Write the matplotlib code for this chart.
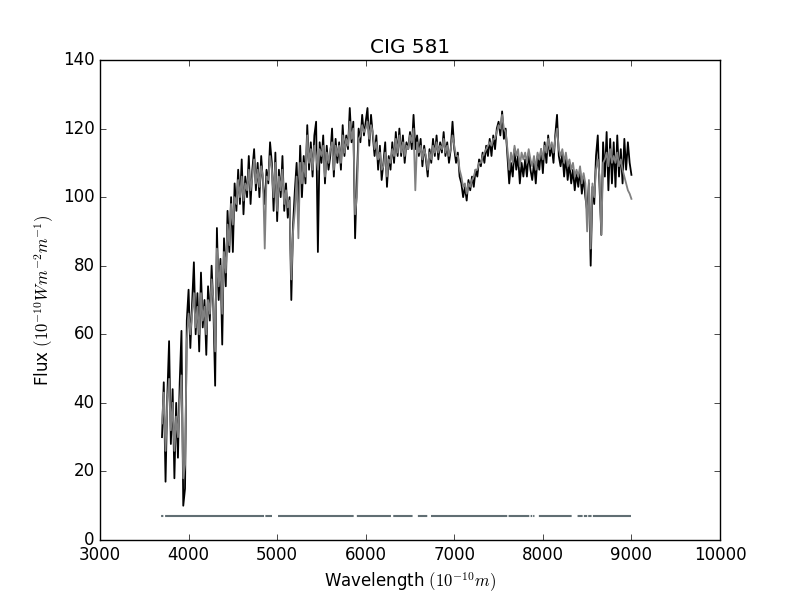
import matplotlib
matplotlib.use("Agg")
import matplotlib.pyplot as plt
import numpy as np

plt.style.use("classic")

# wavelength grid of the spectrum (Angstrom), 20 A steps
wave = np.arange(3700, 9001, 20)

# observed flux (black), one row per 100 A
flux_obs = [
    30, 46, 17, 42, 58,       # 3700
    28, 44, 18, 40, 24,       # 3800
    46, 61, 10, 15, 64,       # 3900
    73, 56, 69, 81, 60,       # 4000
    72, 55, 78, 62, 70,       # 4100
    54, 74, 64, 80, 68,       # 4200
    45, 91, 70, 82, 57,       # 4300
    88, 74, 96, 84, 100,      # 4400
    84, 104, 96, 108, 98,     # 4500
    111, 95, 106, 100, 112,   # 4600
    98, 108, 114, 102, 110,   # 4700
    100, 112, 104, 98, 108,   # 4800
    104, 116, 110, 96, 113,   # 4900
    93, 108, 100, 112, 96,    # 5000
    104, 94, 100, 70, 92,     # 5100
    102, 110, 96, 115, 100,   # 5200
    112, 104, 121, 108, 116,  # 5300
    106, 118, 122, 84, 116,   # 5400
    110, 118, 104, 115, 108,  # 5500
    112, 120, 106, 117, 110,  # 5600
    116, 108, 121, 112, 118,  # 5700
    114, 126, 116, 122, 88,   # 5800
    105, 120, 116, 124, 118,  # 5900
    122, 126, 115, 124, 118,  # 6000
    112, 118, 108, 115, 105,  # 6100
    110, 116, 103, 112, 108,  # 6200
    116, 110, 119, 112, 120,  # 6300
    112, 118, 110, 116, 114,  # 6400
    119, 114, 124, 114, 118,  # 6500
    112, 117, 109, 115, 111,  # 6600
    106, 114, 110, 117, 112,  # 6700
    118, 111, 116, 113, 119,  # 6800
    112, 116, 110, 114, 122,  # 6900
    114, 110, 113, 106, 104,  # 7000
    100, 103, 99, 105, 102,   # 7100
    106, 103, 108, 106, 111,  # 7200
    109, 113, 110, 115, 112,  # 7300
    117, 112, 118, 114, 120,  # 7400
    122, 118, 125, 117, 120,  # 7500
    112, 104, 110, 106, 114,  # 7600
    108, 112, 104, 110, 106,  # 7700
    111, 106, 113, 108, 105,  # 7800
    110, 104, 112, 108, 114,  # 7900
    107, 116, 110, 118, 112,  # 8000
    115, 110, 118, 124, 112,  # 8100
    109, 113, 106, 112, 105,  # 8200
    110, 104, 108, 102, 107,  # 8300
    103, 108, 101, 106, 100,  # 8400
    96, 104, 80, 103, 98,     # 8500
    112, 118, 103, 89, 116,   # 8600
    106, 119, 102, 117, 104,  # 8700
    116, 103, 118, 106, 114,  # 8800
    104, 117, 108, 116, 110,  # 8900
    106.5,                    # 9000
]

# model / fitted flux (grey)
flux_fit = [
    34, 43, 26, 40, 47,       # 3700
    32, 40, 26, 36, 30,       # 3800
    40, 48, 18, 22, 58,       # 3900
    66, 60, 66, 72, 62,       # 4000
    68, 60, 72, 64, 68,       # 4100
    60, 70, 66, 76, 70,       # 4200
    55, 85, 74, 80, 66,       # 4300
    84, 78, 92, 86, 98,       # 4400
    92, 100, 98, 105, 100,    # 4500
    106, 99, 104, 102, 108,   # 4600
    102, 106, 111, 104, 108,  # 4700
    103, 109, 106, 85, 106,   # 4800
    105, 112, 108, 100, 110,  # 4900
    96, 106, 102, 108, 98,    # 5000
    102, 97, 99, 76, 90,      # 5100
    96, 106, 88, 110, 104,    # 5200
    110, 106, 118, 110, 114,  # 5300
    108, 115, 112, 108, 114,  # 5400
    112, 115, 106, 113, 110,  # 5500
    114, 116, 108, 115, 112,  # 5600
    115, 110, 118, 113, 117,  # 5700
    115, 122, 117, 120, 95,   # 5800
    100, 117, 118, 121, 119,  # 5900
    120, 122, 117, 121, 119,  # 6000
    114, 116, 111, 113, 108,  # 6100
    109, 113, 106, 111, 110,  # 6200
    114, 112, 117, 113, 118,  # 6300
    113, 116, 112, 115, 114,  # 6400
    118, 116, 120, 102, 116,  # 6500
    113, 115, 111, 114, 112,  # 6600
    108, 113, 111, 115, 113,  # 6700
    116, 113, 115, 114, 117,  # 6800
    113, 115, 112, 114, 118,  # 6900
    115, 112, 112, 108, 106,  # 7000
    103, 104, 101, 104, 103,  # 7100
    105, 106, 108, 108, 110,  # 7200
    110, 112, 113, 114, 115,  # 7300
    116, 115, 117, 117, 119,  # 7400
    121, 120, 124, 120, 119,  # 7500
    114, 108, 113, 110, 115,  # 7600
    112, 114, 109, 113, 111,  # 7700
    113, 110, 114, 111, 109,  # 7800
    112, 108, 113, 111, 114,  # 7900
    111, 115, 113, 117, 114,  # 8000
    116, 113, 117, 120, 114,  # 8100
    112, 114, 110, 113, 109,  # 8200
    111, 108, 110, 106, 108,  # 8300
    106, 109, 104, 107, 104,  # 8400
    90, 105, 85, 104, 100,    # 8500
    108, 111, 106, 89, 110,   # 8600
    111, 113, 109, 114, 110,  # 8700
    112, 110, 113, 109, 111,  # 8800
    108, 106, 104, 102, 101,  # 8900
    99.5,                     # 9000
]

# good-pixel mask drawn at a constant level, with masked wavelength ranges
mask_level = 7
mask_start, mask_end = 3690, 8995
mask_gaps = [
    (3715, 3735), (4852, 4867), (4942, 5010), (5864, 5900),
    (6285, 6311), (6529, 6589), (6695, 6737), (7598, 7613),
    (7847, 7862), (7880, 7890), (7905, 7955), (8325, 8392),
    (8449, 8463), (8501, 8512), (8550, 8565),
]

fig, ax = plt.subplots(figsize=(8, 6))

ax.plot(wave, flux_obs, color="k", lw=1.3)
ax.plot(wave, flux_fit, color="gray", lw=1.3)

mask_wave = np.arange(mask_start, mask_end + 1, 1.0)
mask_flux = np.full(mask_wave.shape, float(mask_level))
for lo, hi in mask_gaps:
    mask_flux[(mask_wave > lo) & (mask_wave < hi)] = np.nan
ax.plot(mask_wave, mask_flux, color="#606e73", lw=1.5, solid_capstyle="butt")

ax.set_xlim(3000, 10000)
ax.set_ylim(0, 140)
ax.set_title("CIG 581")
ax.set_xlabel(r"Wavelength $(10^{-10} m)$")
ax.set_ylabel(r"Flux $(10^{-10} W m^{-2} m^{-1})$")

fig.savefig("out.png", dpi=100)
